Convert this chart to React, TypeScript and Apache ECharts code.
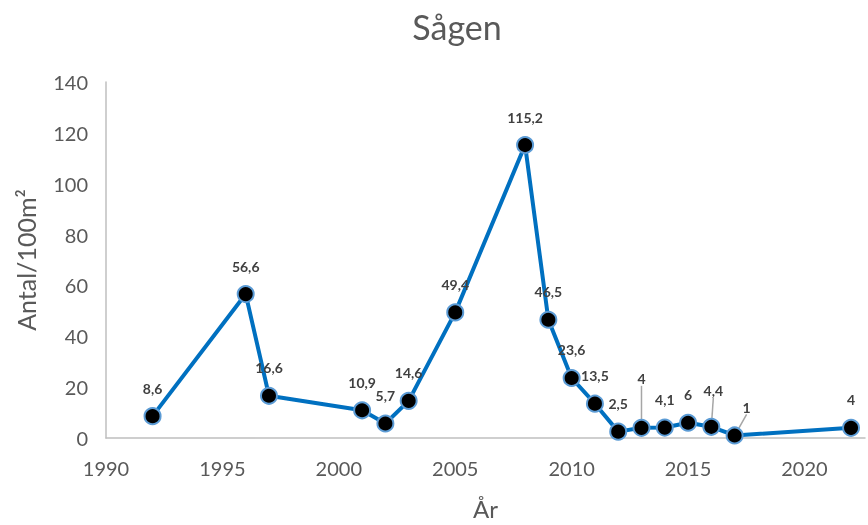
import React, { useEffect, useRef } from "react";
import * as echarts from "echarts";

const years = [1992, 1996, 1997, 2001, 2002, 2003, 2005, 2008, 2009, 2010, 2011, 2012, 2013, 2014, 2015, 2016, 2017, 2022];
const values = [8.6, 56.6, 16.6, 10.9, 5.7, 14.6, 49.4, 115.2, 46.5, 23.6, 13.5, 2.5, 4, 4.1, 6, 4.4, 1, 4];
const yTicks = [0, 20, 40, 60, 80, 100, 120, 140];
const titleText = "Sågen";
const yName = "Antal/100m²";
const xName = "År";

// label shifts (dx, dy) for labels with leader lines, keyed by year
const labelShift: Record<number, [number, number]> = {
  2013: [0, -21],
  2016: [2, -8],
  2017: [12, 0],
};

export default function App() {
  const ref = useRef<HTMLDivElement>(null);
  useEffect(() => {
    if (!ref.current) return;
    const chart = echarts.init(ref.current, undefined, { renderer: "svg" });
    const fontFamily = "Lato, 'Open Sans', sans-serif";
    const labelStyle = {
      fontFamily,
      fontSize: 14,
      fontWeight: "bold",
      color: "#404040",
    };
    chart.setOption({
      animation: false,
      title: {
        text: titleText,
        left: 452,
        top: 4,
        textAlign: "center",
        textStyle: { fontFamily, fontSize: 34, fontWeight: "normal", color: "#595959" },
      },
      grid: { left: 106, right: 0, top: 82, bottom: 84, containLabel: false },
      xAxis: {
        type: "value",
        min: 1990,
        max: 2022.6,
        interval: 5,
        name: xName,
        nameLocation: "middle",
        nameGap: 58,
        nameTextStyle: { fontFamily, fontSize: 24, color: "#595959" },
        axisLine: { show: true, lineStyle: { color: "#BFBFBF", width: 1.5 } },
        axisTick: { show: false },
        splitLine: { show: false },
        axisLabel: {
          fontFamily,
          fontSize: 20,
          color: "#595959",
          margin: 20,
          formatter: (v: number) => (v % 5 === 0 ? String(v) : ""),
        },
      },
      yAxis: {
        type: "value",
        min: yTicks[0],
        max: yTicks[yTicks.length - 1],
        interval: 20,
        name: yName,
        nameLocation: "middle",
        nameGap: 68,
        nameTextStyle: { fontFamily, fontSize: 25, color: "#595959" },
        axisLine: { show: true, lineStyle: { color: "#BFBFBF", width: 1.5 } },
        axisTick: { show: false },
        splitLine: { show: false },
        axisLabel: { fontFamily, fontSize: 20, color: "#595959", margin: 18 },
      },
      series: [
        {
          type: "line",
          data: years.map((y, i) => {
            const item: any = { value: [y, values[i]] };
            if (labelShift[y]) {
              item.labelLine = { show: true, lineStyle: { color: "#A6A6A6", width: 1.5 } };
              item.label = { ...labelStyle };
            }
            return item;
          }),
          symbol: "circle",
          symbolSize: 16,
          itemStyle: { color: "#000000", borderColor: "#5B9BD5", borderWidth: 2 },
          lineStyle: { color: "#0070C0", width: 4 },
          z: 3,
          label: {
            show: true,
            position: "top",
            distance: 12,
            ...labelStyle,
            formatter: (p: any) => String(p.value[1]).replace(".", ","),
          },
          labelLine: { show: false },
          labelLayout: (params: any) => {
            const y = years[params.dataIndex];
            const s = labelShift[y];
            if (s) return { dx: s[0], dy: s[1] };
            return {};
          },
        },
      ],
    });
    return () => chart.dispose();
  }, []);
  return (
    <div
      ref={ref}
      style={{ position: "fixed", left: 0, top: 0, width: 868, height: 525 }}
    />
  );
}
